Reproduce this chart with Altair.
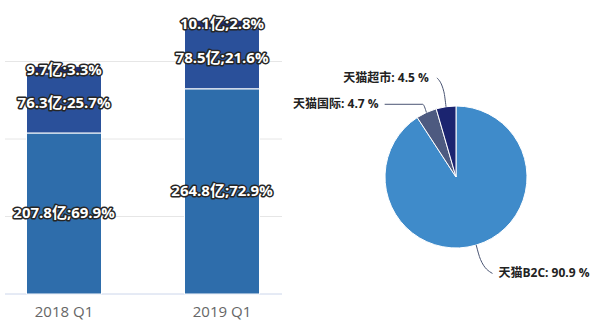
import math
import altair as alt
import pandas as pd

# ---------------- data ----------------
quarters = ["2018 Q1", "2019 Q1"]
segments = ["seg1", "seg2", "seg3"]          # bottom -> top
seg_values = {
    "2018 Q1": [207.8, 76.3, 9.7],
    "2019 Q1": [264.8, 78.5, 10.1],
}
seg_labels = {
    "2018 Q1": ["207.8亿;69.9%", "76.3亿;25.7%", "9.7亿;3.3%"],
    "2019 Q1": ["264.8亿;72.9%", "78.5亿;21.6%", "10.1亿;2.8%"],
}
grid_ticks = [100, 200, 300]

pie_names = ["天猫B2C", "天猫国际", "天猫超市"]
pie_values = [90.9, 4.7, 4.5]
pie_labels = ["天猫B2C: 90.9 %", "天猫国际: 4.7 %", "天猫超市: 4.5 %"]

# ---------------- style / layout ----------------
W, H_PLOT, H_TOTAL = 600, 294, 330
Y_MAX = 379.4
BAR_COLORS = ["#2e6dab", "#2a509a", "#1e2d78"]
PIE_COLORS = ["#3f8bca", "#4d5a80", "#1b2470"]
CX, CY, R = 456, 177, 71
FONT = "Open Sans, Noto Sans CJK SC, sans-serif"
LABEL_STYLE = {
    "天猫B2C": dict(r_elbow=86, end=(12, 14), align="left", gap=6),
    "天猫国际": dict(r_elbow=80, end=(-38, 0), align="right", gap=6),
    "天猫超市": dict(r_elbow=86, end=(-7, -14), align="right", gap=8),
}

# ---------------- bar chart ----------------
rows = []
for q in quarters:
    for i, s in enumerate(segments):
        rows.append(dict(quarter=q, seg=s, order=i, value=seg_values[q][i],
                         label=seg_labels[q][i]))
bar_df = pd.DataFrame(rows)

xscale = alt.Scale(domain=quarters, range=[-15, 301])
yscale = alt.Scale(domain=[0, Y_MAX], nice=False, zero=True)

grid = alt.Chart(pd.DataFrame({"tick": grid_ticks})).mark_rule(
    color="#e6e6e6", strokeWidth=1
).encode(
    y=alt.Y("tick:Q", scale=yscale, axis=None),
    x=alt.value(5), x2=alt.value(282),
)
baseline = alt.Chart(pd.DataFrame({"tick": [0]})).mark_rule(
    color="#ccd6eb", strokeWidth=1
).encode(
    y=alt.Y("tick:Q", scale=yscale, axis=None),
    x=alt.value(5), x2=alt.value(282),
)

bars = alt.Chart(bar_df).mark_bar(size=75, stroke="white", strokeWidth=1).encode(
    x=alt.X("quarter:N", scale=xscale, sort=quarters,
            axis=alt.Axis(title=None, labels=False, domain=False, grid=False,
                          ticks=True, bandPosition=0, tickSize=10,
                          tickColor="#ccd6eb")),
    y=alt.Y("value:Q", stack="zero", scale=yscale, axis=None),
    color=alt.Color("seg:N", scale=alt.Scale(domain=segments, range=BAR_COLORS),
                    legend=None),
    order=alt.Order("order:Q", sort="ascending"),
)

label_base = alt.Chart(bar_df).transform_stack(
    stack="value", as_=["v0", "v1"], groupby=["quarter"],
    sort=[alt.SortField("order", order="ascending")]
).transform_calculate(mid="(datum.v0 + datum.v1) / 2")

label_outline = label_base.mark_text(
    font=FONT, fontSize=15, fontWeight="bold", stroke="#262626",
    strokeWidth=3, strokeJoin="round", fill="#262626"
).encode(
    x=alt.X("quarter:N", scale=xscale, sort=quarters, axis=None),
    y=alt.Y("mid:Q", scale=yscale, axis=None),
    text="label:N",
)
label_fill = label_base.mark_text(
    font=FONT, fontSize=15, fontWeight="bold", fill="white"
).encode(
    x=alt.X("quarter:N", scale=xscale, sort=quarters, axis=None),
    y=alt.Y("mid:Q", scale=yscale, axis=None),
    text="label:N",
)

xlabels = alt.Chart(pd.DataFrame({"quarter": quarters})).mark_text(
    font=FONT, fontSize=15, color="#666666", baseline="middle"
).encode(
    x=alt.X("quarter:N", scale=xscale, sort=quarters, axis=None),
    y=alt.value(312),
    text="quarter:N",
)

bar_layer = alt.layer(grid, baseline, bars, label_outline, label_fill, xlabels)

# ---------------- pie chart ----------------
total = sum(pie_values)
pie_rows, conn_rows, text_rows = [], [], []
cum = 0.0
for i, (n, v, lab) in enumerate(zip(pie_names, pie_values, pie_labels)):
    a0 = cum / total * 2 * math.pi
    cum += v
    a1 = cum / total * 2 * math.pi
    mid = (a0 + a1) / 2
    pie_rows.append(dict(name=n, value=v, order=i))
    st = LABEL_STYLE[n]
    ex, ey = CX + R * math.sin(mid), CY - R * math.cos(mid)
    bx, by = CX + st["r_elbow"] * math.sin(mid), CY - st["r_elbow"] * math.cos(mid)
    fx, fy = bx + st["end"][0], by + st["end"][1]
    for k, (px, py) in enumerate([(ex, ey), (bx, by), (fx, fy)]):
        conn_rows.append(dict(name=n, k=k, px=px, py=py))
    tx = fx - st["gap"] if st["align"] == "right" else fx + st["gap"]
    text_rows.append(dict(name=n, label=lab, px=tx, py=fy, align=st["align"]))

pie_df = pd.DataFrame(pie_rows)
conn_df = pd.DataFrame(conn_rows)
text_df = pd.DataFrame(text_rows)

arcs = alt.Chart(pie_df).mark_arc(radius=R, stroke="white", strokeWidth=1).encode(
    theta=alt.Theta("value:Q", stack=True),
    order=alt.Order("order:Q", sort="ascending"),
    color=alt.Color("name:N", scale=alt.Scale(domain=pie_names, range=PIE_COLORS),
                    legend=None),
    x=alt.value(CX), y=alt.value(CY),
)

connectors = alt.Chart(conn_df).mark_line(
    color="#4a5573", strokeWidth=1, interpolate="monotone"
).encode(
    x=alt.X("px:Q", scale=None, axis=None),
    y=alt.Y("py:Q", scale=None, axis=None),
    detail="name:N",
    order="k:Q",
)

txt_right = alt.Chart(text_df).transform_filter("datum.align == 'right'").mark_text(
    font=FONT, fontSize=12, fontWeight="bold", color="#222222", align="right",
    baseline="middle"
).encode(
    x=alt.X("px:Q", scale=None, axis=None),
    y=alt.Y("py:Q", scale=None, axis=None),
    text="label:N",
)
txt_left = alt.Chart(text_df).transform_filter("datum.align == 'left'").mark_text(
    font=FONT, fontSize=12, fontWeight="bold", color="#222222", align="left",
    baseline="middle"
).encode(
    x=alt.X("px:Q", scale=None, axis=None),
    y=alt.Y("py:Q", scale=None, axis=None),
    text="label:N",
)

pie_layer = alt.layer(arcs, connectors, txt_right, txt_left)

chart = alt.layer(bar_layer, pie_layer).resolve_scale(
    x="independent", y="independent", color="independent"
).properties(
    width=W, height=H_PLOT,
    autosize=alt.AutoSizeParams(type="none"),
    padding={"left": 0, "top": 0, "right": 0, "bottom": H_TOTAL - H_PLOT},
    background="white",
).configure_view(stroke=None)

chart.save("out.html", embed_options={"renderer": "svg", "actions": False})
